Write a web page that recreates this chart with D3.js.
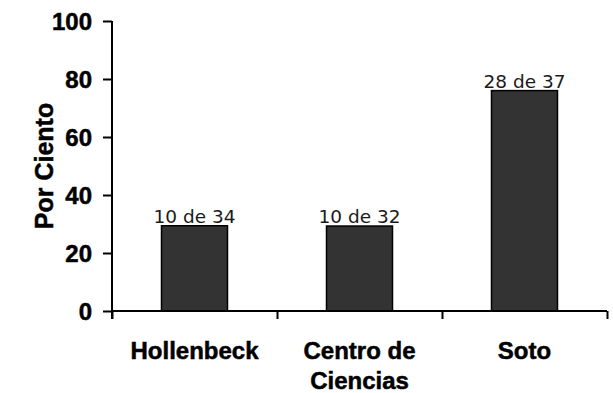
<!DOCTYPE html>
<html>
<head>
<meta charset="utf-8">
<script src="https://cdn.jsdelivr.net/npm/d3@7"></script>
<style>
  html, body { margin: 0; padding: 0; background: #fff; }
  svg { display: block; }
  .tick text { font-family: "Liberation Sans", Arial, sans-serif; font-weight: bold; font-size: 24px; fill: #000; stroke: #000; stroke-width: 0.5px; }
  .heavy { stroke: #000; stroke-width: 0.5px; }
</style>
</head>
<body>
<svg id="chart" width="613" height="393"></svg>
<script>
// Schools and their share of students (percent), with the counts behind each share
const categories = ["Hollenbeck", "Centro de Ciencias", "Soto"];
const percents = [29.4, 29.3, 76];
const counts = [10, 10, 28];
const totals = [34, 32, 37];
const yTicks = [0, 20, 40, 60, 80, 100];
const yTitle = "Por Ciento";

const svg = d3.select("#chart");
const margin = { left: 112, right: 6, top: 21, bottom: 82 };
const width = 613, height = 393;
const x0 = margin.left, x1 = width - margin.right;
const yBase = height - margin.bottom;

const x = d3.scaleBand()
  .domain(categories)
  .range([x0, x1])
  .paddingInner(0.6)
  .paddingOuter(0.3);

const y = d3.scaleLinear()
  .domain([0, 100])
  .range([yBase, margin.top]);

// category boundaries for the x-axis tick marks
const edges = d3.scaleLinear().domain([0, categories.length]).range([x0, x1]);

// bars
svg.append("g")
  .selectAll("rect")
  .data(categories)
  .join("rect")
  .attr("x", d => x(d))
  .attr("y", (d, i) => y(percents[i]))
  .attr("width", x.bandwidth())
  .attr("height", (d, i) => y(0) - y(percents[i]))
  .attr("fill", "#333333")
  .attr("stroke", "#000")
  .attr("stroke-width", 1.5);

// count labels above bars
svg.append("g")
  .selectAll("text")
  .data(categories)
  .join("text")
  .attr("x", d => x(d) + x.bandwidth() / 2)
  .attr("y", (d, i) => y(percents[i]) - 3)
  .attr("text-anchor", "middle")
  .attr("font-family", "'DejaVu Sans', Verdana, sans-serif")
  .attr("font-size", 18.5)
  .attr("fill", "#1a1a1a")
  .text((d, i) => `${counts[i]} de ${totals[i]}`);

// y axis
const yAxis = svg.append("g")
  .attr("transform", `translate(${x0},0)`)
  .call(d3.axisLeft(y).tickValues(yTicks).tickSize(9).tickSizeOuter(0).tickPadding(11));
yAxis.select(".domain").remove();
yAxis.selectAll(".tick line").attr("stroke", "#000").attr("stroke-width", 2);
yAxis.selectAll(".tick text").attr("dy", "0.36em");
yAxis.append("line")
  .attr("x1", 0).attr("x2", 0)
  .attr("y1", y(100)).attr("y2", y(0) + 8)
  .attr("stroke", "#000").attr("stroke-width", 2);

// x axis line and boundary ticks
const xAxis = svg.append("g")
  .attr("transform", `translate(0,${yBase})`)
  .call(d3.axisBottom(edges).tickValues(d3.range(categories.length + 1)).tickSize(8).tickFormat(""));
xAxis.select(".domain").remove();
xAxis.selectAll(".tick line").attr("stroke", "#000").attr("stroke-width", 2);
xAxis.append("line")
  .attr("x1", x0).attr("x2", x1)
  .attr("stroke", "#000").attr("stroke-width", 2);

// category labels, wrapped to the category width
const labels = svg.append("g")
  .attr("class", "heavy")
  .attr("font-family", "'Liberation Sans', Arial, sans-serif")
  .attr("font-weight", "bold")
  .attr("font-size", 24)
  .attr("text-anchor", "middle");

categories.forEach(c => {
  const cx = x(c) + x.bandwidth() / 2;
  const t = labels.append("text").attr("x", cx).attr("y", 0);
  const words = c.split(" ");
  const maxW = x.step() * 0.85;
  const lines = [];
  let cur = [];
  const probe = t.append("tspan");
  words.forEach(w => {
    const trial = cur.concat(w).join(" ");
    probe.text(trial);
    if (probe.node().getComputedTextLength() > maxW && cur.length) {
      lines.push(cur.join(" "));
      cur = [w];
    } else {
      cur.push(w);
    }
  });
  lines.push(cur.join(" "));
  probe.remove();
  lines.forEach((ln, i) => {
    t.append("tspan").attr("x", cx).attr("y", 359 + i * 30).text(ln);
  });
});

// y-axis title
svg.append("text")
  .attr("class", "heavy")
  .attr("transform", `translate(53,${(y(0) + y(100)) / 2}) rotate(-90)`)
  .attr("text-anchor", "middle")
  .attr("font-family", "'Liberation Sans', Arial, sans-serif")
  .attr("font-weight", "bold")
  .attr("font-size", 25)
  .text(yTitle);
</script>
</body>
</html>
